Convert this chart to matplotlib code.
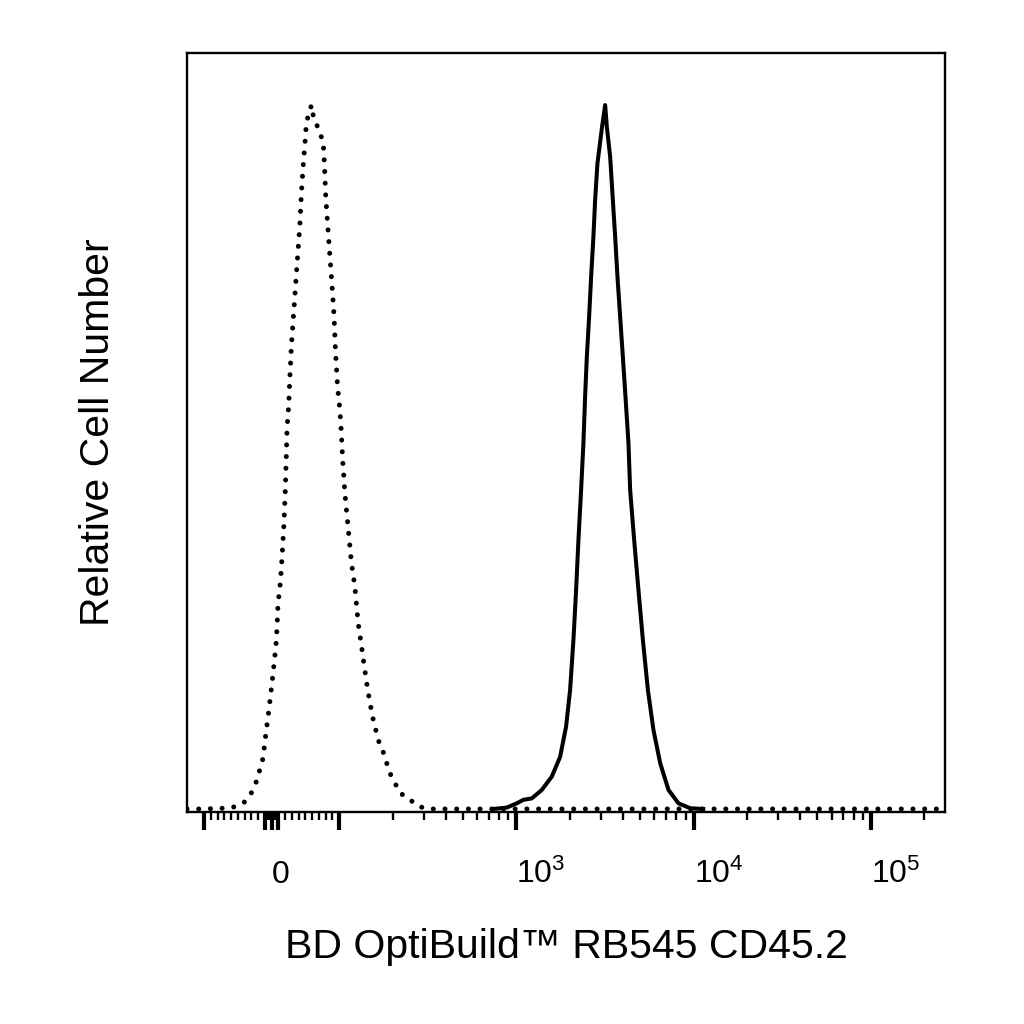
import numpy as np
import matplotlib
matplotlib.use("Agg")
import matplotlib.pyplot as plt
from matplotlib.ticker import FixedLocator, NullFormatter

plt.rcParams['font.family'] = ['Liberation Sans', 'DejaVu Sans']
plt.rcParams['mathtext.fontset'] = 'custom'
plt.rcParams['mathtext.rm'] = 'Liberation Sans'
plt.rcParams['mathtext.it'] = 'Liberation Sans'

# unstained control (dotted), fluorescence vs relative count (% of peak)
control_x = [-125, -102, -72.7, -54.9, -40.1, -30.1, -22.7, -17.8, -12.9, -8.9,
             -4.5, -0.4, 3.4, 7.0, 9.3, 12.9, 15.3, 18.2, 20.3, 21.8,
             22.7, 25.2, 26.7, 29.2, 31.6, 34.1, 36.6, 39.0, 41.5, 44.1,
             46.4, 49.0, 51.5, 58.9, 61.3, 68.7, 74.6, 77.2, 78.6, 80.1,
             82.6, 85.0, 87.5, 90.0, 92.4, 94.5, 97.5, 100.8, 103.0, 104.4,
             107.6, 112.3, 117.3, 122.5, 127.9, 133.6, 139.5, 145.7, 154.2, 165.9,
             177.0, 193.1, 220.0, 250.6, 285.4, 325.0, 262144]
control_y = [0, 0, 0.1, 0.3, 1.0, 2.3, 3.9, 5.5, 7.2, 10.5,
             13.8, 17.2, 20.5, 24.0, 29.0, 32.3, 35.7, 40.6, 45.8, 50.8,
             54.1, 57.4, 60.9, 65.9, 69.2, 72.6, 76.1, 79.4, 82.7, 87.7,
             91.1, 94.3, 97.6, 100, 98.6, 96.7, 95.2, 93.6, 90.3, 86.8,
             83.4, 80.1, 76.8, 73.5, 69.9, 65.0, 60.0, 56.8, 53.1, 49.9,
             44.9, 39.9, 34.9, 31.6, 26.4, 23.1, 19.7, 16.5, 13.1, 9.8,
             8.1, 5.1, 2.3, 1.3, 0.3, 0, 0]

# stained sample (solid)
stained_x = [737.6, 881.5, 1004, 1094, 1220, 1390, 1583, 1764, 1906, 2008,
             2097, 2171, 2238, 2317, 2388, 2441, 2496, 2571, 2639, 2719,
             2780, 2865, 3034, 3167, 3237, 3379, 3500, 3607, 3717, 3849,
             3987, 4124, 4287, 4383, 4617, 4882, 5171, 5519, 5935, 6476,
             7215, 8216, 9568, 11330]
stained_y = [0, 0.2, 0.8, 1.3, 1.5, 2.7, 4.6, 7.4, 11.7, 16.9,
             24.0, 31.1, 38.2, 45.3, 52.0, 58.6, 64.2, 69.9, 75.6, 81.3,
             86.5, 91.7, 96.7, 100, 96.9, 92.7, 86.5, 81.3, 75.6, 69.9,
             64.2, 58.6, 52.0, 45.3, 38.2, 31.1, 24.0, 16.9, 11.2, 6.5,
             2.7, 0.8, 0.1, 0]

major_ticks = [-100, -10, 0, 10, 100, 1e3, 1e4, 1e5]
major_labels = ['', '', '0', '', '', r'$10^{3}$', r'$10^{4}$', r'$10^{5}$']
minor_ticks = ([-v for v in range(20, 100, 10)] + list(range(20, 100, 10))
               + [-8, -6, -4, -2, 2, 4, 6, 8]
               + [m * 10 ** e for e in (2, 3, 4) for m in range(2, 10)] + [2e5])

fig = plt.figure(figsize=(10.24, 10.24), dpi=100)
ax = fig.add_axes([187 / 1024, 1 - 812 / 1024, 758 / 1024, 759 / 1024])

ax.plot(control_x, control_y, color='black', lw=3.6,
        linestyle=(0, (0.01, 2.33)), dash_capstyle='round')
ax.plot(stained_x, stained_y, color='black', lw=2.9, solid_joinstyle='round')

ax.set_xscale('symlog', linthresh=100, linscale=0.343)
ax.set_xlim(-125, 262144)
ax.set_ylim(-0.43, 107.4)

ax.xaxis.set_major_locator(FixedLocator(major_ticks))
ax.xaxis.set_minor_locator(FixedLocator(minor_ticks))
ax.xaxis.set_minor_formatter(NullFormatter())
ax.set_xticklabels(major_labels, ha='left', va='baseline', fontsize=23)
ax.tick_params(axis='x', which='major', direction='out', length=13, width=3,
               pad=38, top=False)
ax.tick_params(axis='x', which='minor', direction='out', length=6, width=1.7,
               top=False)
ax.set_yticks([])

for sp in ax.spines.values():
    sp.set_linewidth(1.7)

ax.set_xlabel('BD OptiBuild™ RB545 CD45.2', fontsize=29.5)
ax.xaxis.set_label_coords(0.5, -0.153)
ax.set_ylabel('Relative Cell Number', fontsize=29.5)
ax.yaxis.set_label_coords(-0.092, 0.5)

fig.savefig('out.png', dpi=100)
